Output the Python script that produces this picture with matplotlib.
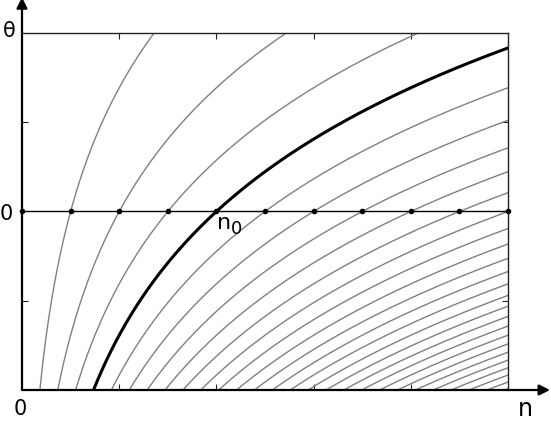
import matplotlib
matplotlib.use("Agg")
import matplotlib.pyplot as plt
import numpy as np

# crossing points of each curve with theta = 0 (in units of the dot spacing)
crossings = list(range(1, 28))
thick_crossing = 4
theta_range = (-1.0, 1.0)
dot_positions = list(range(0, 11))
xticks = [2, 4, 6, 8]
yticks = [-0.5, 0.5]

W, H = 551, 421
fig = plt.figure(figsize=(W / 100, H / 100), dpi=100)
ax = fig.add_axes([22 / W, (H - 390) / H, 486 / W, 357 / H])
ax.set_xlim(0, 10)
ax.set_ylim(*theta_range)

# each curve: n = n_k * e^theta
theta = np.linspace(theta_range[0], theta_range[1], 400)
for n0 in crossings:
    if n0 == thick_crossing:
        continue
    ax.plot(n0 * np.exp(theta), theta, color="#808080", lw=1.0)
ax.plot(thick_crossing * np.exp(theta), theta, color="black", lw=2.2, zorder=4)

ax.plot([0, 10], [0, 0], color="black", lw=1.0, zorder=5)
ax.plot(dot_positions, [0] * len(dot_positions), "o", color="black",
        ms=3, zorder=6, clip_on=False)

for s in ["top", "right"]:
    ax.spines[s].set_linewidth(1.0)
    ax.spines[s].set_color("#222222")
for s in ["left", "bottom"]:
    ax.spines[s].set_visible(False)

ax.set_xticks(xticks)
ax.set_yticks(yticks)
ax.tick_params(direction="in", length=4, width=0.8, top=True, right=True,
               labelbottom=False, labelleft=False, color="#222222")

# axis arrows
ax.annotate("", xy=(0, 1.2), xytext=(0, -1.0), xycoords="data",
            arrowprops=dict(arrowstyle="-|>", color="black", lw=1.6,
                            mutation_scale=16, shrinkA=0, shrinkB=0),
            annotation_clip=False)
ax.annotate("", xy=(10.0 + 42 / 48.6, -1.0), xytext=(0, -1.0), xycoords="data",
            arrowprops=dict(arrowstyle="-|>", color="black", lw=1.6,
                            mutation_scale=16, shrinkA=0, shrinkB=0),
            annotation_clip=False)

fig.text(9 / W, 1 - 31 / H, "θ", fontsize=15, ha="center", va="center")
fig.text(6 / W, 1 - 214 / H, "0", fontsize=15, ha="center", va="center")
fig.text(20 / W, 1 - 409 / H, "0", fontsize=15, ha="center", va="center")
fig.text(525 / W, 1 - 409 / H, "n", fontsize=17, ha="center", va="center")
# n0 label: "n" with a large subscript 0
fig.text(224 / W, 1 - 223 / H, "n", fontsize=16, ha="center", va="center")
fig.text(237 / W, 1 - 229 / H, "0", fontsize=13, ha="center", va="center")

fig.savefig("out.png", dpi=100)
